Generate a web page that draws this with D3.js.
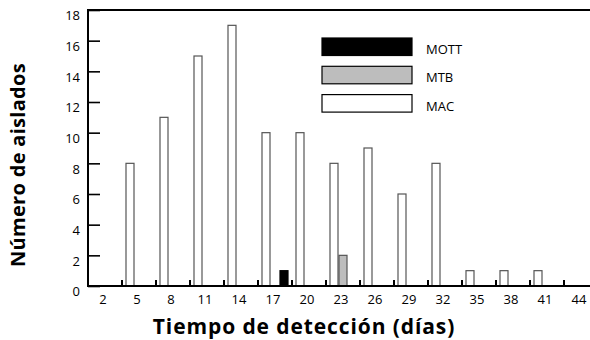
<!DOCTYPE html>
<html>
<head>
<meta charset="utf-8">
<script src="https://cdn.jsdelivr.net/npm/d3@7"></script>
<style>
  body { margin: 0; background: #fff; }
  svg { display: block; font-family: "Open Sans", "Noto Sans", sans-serif; }
</style>
</head>
<body>
<div id="graph"></div>
<script>
// data
var days = ['2', '5', '8', '11', '14', '17', '20', '23', '26', '29', '32', '35', '38', '41', '44']
var series = ['MAC', 'MTB', 'MOTT']
var mac  = [0, 8, 11, 15, 17, 10, 10, 8, 9, 6, 8, 1, 1, 1, 0]
var mtb  = [0, 0, 0, 0, 0, 0, 0, 2, 0, 0, 0, 0, 0, 0, 0]
var mott = [0, 0, 0, 0, 0, 1, 0, 0, 0, 0, 0, 0, 0, 0, 0]
var yTicks = [0, 2, 4, 6, 8, 10, 12, 14, 16, 18]
var legendOrder = ['MOTT', 'MTB', 'MAC']

var width = 590, height = 340
var mLeft = 88, mTop = 10, mBottom = 286

var svg = d3.select('#graph').append('svg')
  .attr('width', width).attr('height', height)

var x = d3.scaleBand().domain(days).range([mLeft, mLeft + days.length*34])
var xs = d3.scaleBand().domain(series).range([3.5, 30.5])
var y = d3.scaleLinear().domain([0, 18]).range([mBottom, mTop])

var fill = {MAC: '#fff', MTB: '#bdbdbd', MOTT: '#000'}
var stroke = {MAC: '#555', MTB: '#555', MOTT: '#000'}
var values = {MAC: mac, MTB: mtb, MOTT: mott}

// bars
var bars = []
series.forEach(s => values[s].forEach((v, i) => { if (v > 0) bars.push({s, day: days[i], v}) }))

svg.append('g').selectAll('rect').data(bars).join('rect')
  .attr('x', d => x(d.day) + xs(d.s) + 0.5)
  .attr('y', d => y(d.v))
  .attr('width', xs.bandwidth() - 1)
  .attr('height', d => y(0) - y(d.v))
  .attr('fill', d => fill[d.s])
  .attr('stroke', d => stroke[d.s])
  .attr('stroke-width', 1.2)

// y axis
var yAxis = svg.append('g')
  .attr('transform', `translate(${mLeft},0)`)
  .call(d3.axisLeft(y).tickValues(yTicks).tickSizeInner(-12).tickSizeOuter(0).tickPadding(8))
yAxis.select('.domain').remove()
yAxis.selectAll('.tick line').attr('stroke', '#000').attr('stroke-width', 1.6)
yAxis.selectAll('.tick text')
  .attr('dy', '0.75em')
  .style('font-size', '13px')
  .style('font-family', '"Open Sans", sans-serif')
  .attr('fill', '#000')

// x axis labels centred in each band
var xAxis = svg.append('g')
  .attr('transform', `translate(-2,${mBottom})`)
  .call(d3.axisBottom(x).tickSize(0).tickPadding(9))
xAxis.select('.domain').remove()
xAxis.selectAll('.tick text')
  .attr('dy', '0.71em')
  .style('font-size', '13px')
  .style('font-family', '"Open Sans", sans-serif')
  .attr('fill', '#000')

// tick marks on band boundaries
svg.append('g').selectAll('line').data(days.slice(1)).join('line')
  .attr('x1', d => x(d)).attr('x2', d => x(d))
  .attr('y1', mBottom).attr('y2', mBottom - 6)
  .attr('stroke', '#000').attr('stroke-width', 2)

// frame: top, left, bottom
svg.append('line').attr('x1', mLeft).attr('x2', width).attr('y1', mTop).attr('y2', mTop)
  .attr('stroke', '#000').attr('stroke-width', 2)
svg.append('line').attr('x1', mLeft).attr('x2', mLeft).attr('y1', mTop - 1).attr('y2', mBottom + 1)
  .attr('stroke', '#000').attr('stroke-width', 2)
svg.append('line').attr('x1', mLeft - 1).attr('x2', width).attr('y1', mBottom).attr('y2', mBottom)
  .attr('stroke', '#000').attr('stroke-width', 2.2)

// legend
var leg = svg.append('g').attr('transform', 'translate(322,38)')
  .selectAll('g').data(legendOrder).join('g')
  .attr('transform', (d, i) => `translate(0,${i*28.3})`)
leg.append('rect')
  .attr('width', 90).attr('height', 17.5)
  .attr('fill', d => fill[d]).attr('stroke', '#000').attr('stroke-width', 1.2)
leg.append('text')
  .attr('x', 104).attr('y', 16)
  .style('font-size', '13px')
  .text(d => d)

// axis titles
svg.append('text')
  .attr('x', 304).attr('y', 334)
  .attr('text-anchor', 'middle')
  .style('font-size', '21px').style('font-weight', 'bold')
  .style('letter-spacing', '0.9px')
  .text('Tiempo de detección (días)')

svg.append('text')
  .attr('transform', 'translate(25,165) rotate(-90)')
  .attr('text-anchor', 'middle')
  .style('font-size', '20px').style('font-weight', 'bold')
  .style('letter-spacing', '0.3px')
  .text('Número de aislados')
</script>
</body>
</html>
